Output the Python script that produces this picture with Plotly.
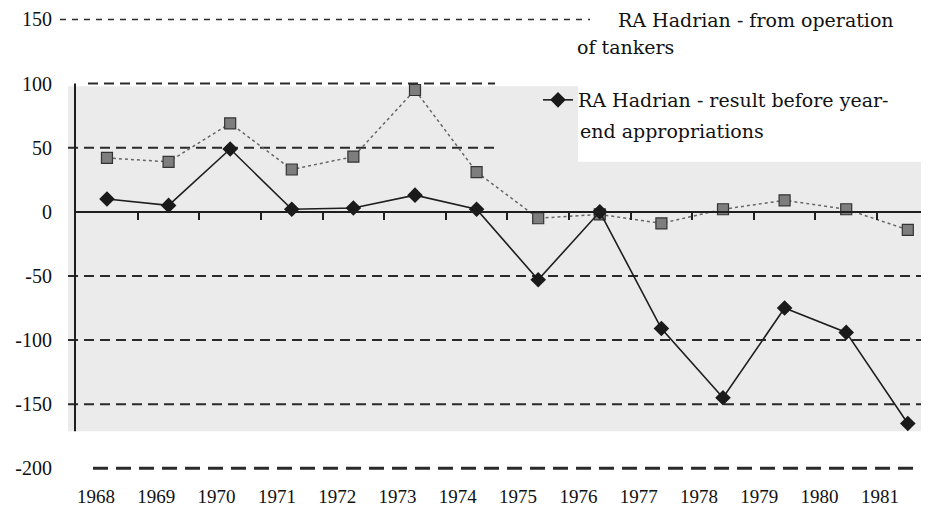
import plotly.graph_objects as go

years = list(range(1968, 1982))
year_labels = [str(y) for y in years]
tankers = [42, 39, 69, 33, 43, 95, 31, -5, -2, -9, 2, 9, 2, -14]
result = [10, 5, 49, 2, 3, 13, 2, -53, 0, -91, -145, -75, -94, -165]
y_ticks = [150, 100, 50, 0, -50, -100, -150, -200]
y_tick_labels = ["150", "100", "50", "0", "-50", "-100", "-150", "-200"]
name_tankers = ["RA Hadrian - from operation", "of tankers"]
name_result = ["RA Hadrian - result before year-", "end appropriations"]

# page offset of the plot div (browser body margin)
OFF = 8
PAGE_W, PAGE_H = 929, 507
W, H = PAGE_W - OFF, PAGE_H - OFF
PL, PT, PB = 75, 10, 475          # plot area edges in page pixels
L, T = PL - OFF, PT - OFF
B = H - (PB - OFF)
R = 0
PW, PH = W - L - R, PB - PT
YMIN, YMAX = -205.17, 157.35
XMIN, XMAX = 1967.481, 1981.344
X2MIN, X2MAX = 1967.652, 1981.814

def px(x):
    return (x - PL) / PW

def py(y):
    return (PB - y) / PH

fig = go.Figure()
fig.add_trace(go.Scatter(
    x=years, y=tankers, mode="lines+markers", showlegend=False,
    line=dict(color="#666666", width=1.5, dash="dot"),
    marker=dict(symbol="square", size=11, color="#7e7e7e",
                line=dict(color="#333333", width=1.2)),
))
fig.add_trace(go.Scatter(
    x=years, y=result, mode="lines+markers", name=name_result[0],
    line=dict(color="#1e1e1e", width=1.6),
    marker=dict(symbol="diamond", size=12, color="#1a1a1a"),
))
fig.add_trace(go.Scatter(
    x=years, y=[None] * len(years), xaxis="x2", yaxis="y",
    showlegend=False, hoverinfo="skip", mode="markers",
))

shapes = []
shapes.append(dict(type="rect", xref="paper", yref="y", x0=px(68), x1=1.0,
                   y0=-171, y1=98, fillcolor="#ebebeb", line=dict(width=0),
                   layer="below"))
shapes.append(dict(type="rect", xref="paper", yref="y", x0=px(578), x1=1.0,
                   y0=39, y1=98.5, fillcolor="#ffffff", line=dict(width=0),
                   layer="below"))
grid_style = [
    (150, 60, 590, "6px,6px", 1.5),
    (100, 88, 495, "10px,6px", 2),
    (50, 68, 495, "10px,6px", 2),
    (-50, 68, 929, "10px,6px", 2),
    (-100, 68, 929, "10px,6px", 2),
    (-150, 68, 929, "10px,6px", 2),
    (-200, 93, 920, "15px,8px", 3),
]
for v, a, b, d, w in grid_style:
    shapes.append(dict(type="line", xref="paper", yref="y", x0=px(a), x1=px(b),
                       y0=v, y1=v, line=dict(color="#2a2a2a", width=w, dash=d),
                       layer="below"))
shapes.append(dict(type="line", xref="paper", yref="y", x0=0, x1=0,
                   y0=-171, y1=100, line=dict(color="#1e1e1e", width=2)))

serif = "DejaVu Serif"
annotations = [
    dict(text=name_tankers[0], x=px(617), y=py(8), yanchor="top", borderpad=0),
    dict(text=name_tankers[1], x=px(575), y=py(47), yanchor="middle"),
    dict(text=name_result[1], x=px(578), y=py(131), yanchor="middle"),
]
for a in annotations:
    a.update(xref="paper", yref="paper", xanchor="left",
             showarrow=False, font=dict(family=serif, size=19, color="#111"))

fig.update_layout(
    width=W, height=H,
    margin=dict(l=L, r=R, t=T, b=B),
    paper_bgcolor="white", plot_bgcolor="white",
    shapes=shapes, annotations=annotations,
    xaxis=dict(range=[XMIN, XMAX], anchor="free",
               position=(0 - YMIN) / (YMAX - YMIN),
               showgrid=False, zeroline=False, showline=True,
               linecolor="#1e1e1e", linewidth=2,
               tickvals=[y + 0.5 for y in years[:-1]], ticks="outside",
               ticklen=7, tickwidth=2, tickcolor="#1e1e1e",
               showticklabels=False),
    xaxis2=dict(range=[X2MIN, X2MAX], overlaying="x", anchor="y", side="bottom",
                showgrid=False, zeroline=False, showline=False, ticks="",
                tickvals=years, ticktext=year_labels, ticklabelstandoff=8,
                tickfont=dict(family="Liberation Serif", size=19, color="#111")),
    yaxis=dict(range=[YMIN, YMAX], showgrid=False, zeroline=False,
               showline=False, tickvals=y_ticks, ticktext=y_tick_labels,
               ticks="", ticklabelstandoff=22,
               tickfont=dict(family="Liberation Serif", size=20, color="#111")),
    legend=dict(x=px(538), y=py(100), xanchor="left", yanchor="middle",
                bgcolor="rgba(0,0,0,0)",
                font=dict(family=serif, size=19, color="#111")),
)

fig.write_html("out.html")
